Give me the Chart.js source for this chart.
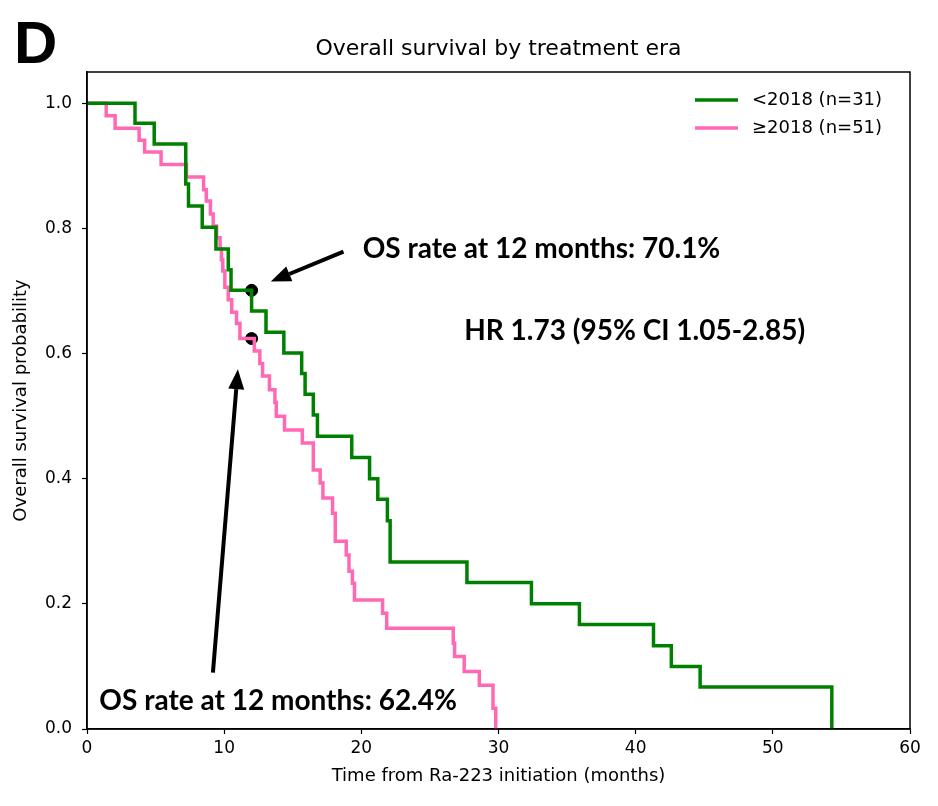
<!DOCTYPE html>
<html>
<head>
<meta charset="utf-8">
<script src="https://cdn.jsdelivr.net/npm/chart.js@4.4.0/dist/chart.umd.min.js"></script>
<style>
  html, body { margin: 0; padding: 0; background: #fff; }
  #wrap { width: 938px; height: 806px; position: relative; }
</style>
</head>
<body>
<div id="wrap"><canvas id="osChart" width="938" height="806"></canvas></div>
<script>
/* =========================
   DATA
========================= */
const seriesLabels = ["<2018 (n=31)", "\u22652018 (n=51)"];
const seriesColors = ["#008000", "#ff69b4"];

// <2018 Kaplan-Meier steps (months, survival)
const earlyTimes = [0, 3.5, 4.9, 7.2, 7.4, 8.4, 9.4, 10.3, 10.5, 12.0, 13.05, 14.35, 15.65, 15.9, 16.5, 16.8,
  19.3, 20.6, 21.2, 21.9, 22.1, 27.7, 32.4, 35.9, 41.3, 42.6, 44.7, 54.3];
const earlySurv = [1.0, 0.968, 0.935, 0.871, 0.836, 0.802, 0.767, 0.734, 0.701, 0.668, 0.634, 0.601, 0.568, 0.535,
  0.502, 0.468, 0.434, 0.400, 0.367, 0.333, 0.267, 0.234, 0.200, 0.167, 0.133, 0.100, 0.067, 0.0];

// >=2018 Kaplan-Meier steps
const lateTimes = [0, 1.4, 2.05, 3.8, 4.2, 5.4, 7.25, 8.5, 8.7, 9.0, 9.2, 9.45, 9.7, 9.8, 9.9, 10.05, 10.3, 10.55,
  10.9, 11.15, 12.2, 12.6, 12.8, 13.3, 13.7, 13.8, 14.4, 15.7, 16.5, 17.0, 17.2, 17.9, 18.1, 18.9, 19.1, 19.35,
  19.5, 21.55, 21.85, 26.7, 26.8, 27.5, 28.6, 29.6, 29.8];
const lateSurv = [1.0, 0.980, 0.960, 0.941, 0.922, 0.902, 0.882, 0.862, 0.844, 0.823, 0.804, 0.785, 0.768, 0.750,
  0.732, 0.706, 0.686, 0.666, 0.648, 0.624, 0.604, 0.584, 0.564, 0.542, 0.522, 0.500, 0.478, 0.457, 0.414, 0.393,
  0.369, 0.345, 0.300, 0.278, 0.252, 0.233, 0.206, 0.185, 0.161, 0.137, 0.116, 0.092, 0.070, 0.033, 0.0];

// 12-month OS markers
const markerTimes = [12, 12];
const markerSurv = [0.701, 0.624];

const xTickValues = [0, 10, 20, 30, 40, 50, 60];
const yTickValues = [0.0, 0.2, 0.4, 0.6, 0.8, 1.0];

// annotations in data units: text, x, y
const noteTexts = ["OS rate at 12 months: 70.1%", "HR 1.73 (95% CI 1.05-2.85)", "OS rate at 12 months: 62.4%"];
const noteX = [20.1, 27.5, 0.9];
const noteY = [0.767, 0.636, 0.044];
// arrows: tail -> tip, data units
const arrowFromX = [18.7, 9.18];
const arrowFromY = [0.763, 0.090];
const arrowToX = [13.4, 11.0];
const arrowToY = [0.715, 0.575];

/* =========================
   PLUGIN: FRAME, LEGEND, NOTES
========================= */
function drawArrow(ctx, x1, y1, x2, y2) {
    const ang = Math.atan2(y2 - y1, x2 - x1);
    const head = 20, half = 8;
    const bx = x2 - head * Math.cos(ang), by = y2 - head * Math.sin(ang);
    ctx.beginPath();
    ctx.moveTo(x1, y1);
    ctx.lineTo(bx, by);
    ctx.lineWidth = 4;
    ctx.strokeStyle = "#000";
    ctx.stroke();
    ctx.beginPath();
    ctx.moveTo(x2, y2);
    ctx.lineTo(bx + half * Math.sin(ang), by - half * Math.cos(ang));
    ctx.lineTo(bx - half * Math.sin(ang), by + half * Math.cos(ang));
    ctx.closePath();
    ctx.fillStyle = "#000";
    ctx.fill();
}

const decorPlugin = {
    id: "decor",
    afterDraw(chart) {
        const { ctx, chartArea: a, scales: { x, y } } = chart;
        ctx.save();

        // axes frame
        ctx.strokeStyle = "#000";
        ctx.lineWidth = 1.5;
        ctx.strokeRect(a.left, a.top, a.right - a.left, a.bottom - a.top);

        // panel letter + title
        ctx.fillStyle = "#000";
        ctx.font = "bold 60px 'Liberation Sans', Arial, sans-serif";
        ctx.textAlign = "left";
        ctx.textBaseline = "alphabetic";
        ctx.fillText("D", 14, 63);

        ctx.font = "22px 'DejaVu Sans', sans-serif";
        ctx.textAlign = "center";
        ctx.fillText("Overall survival by treatment era", (a.left + a.right) / 2, 55);

        // legend
        ctx.font = "18px 'DejaVu Sans', sans-serif";
        ctx.textAlign = "left";
        ctx.textBaseline = "middle";
        seriesLabels.forEach((lab, i) => {
            const ly = a.top + 28 + i * 28;
            ctx.beginPath();
            ctx.moveTo(a.right - 215, ly);
            ctx.lineTo(a.right - 172, ly);
            ctx.strokeStyle = seriesColors[i];
            ctx.lineWidth = 3.5;
            ctx.stroke();
            ctx.fillStyle = "#000";
            ctx.fillText(lab, a.right - 158, ly);
        });

        // notes
        ctx.font = "bold 28px Lato, 'Open Sans', sans-serif";
        ctx.textBaseline = "middle";
        noteTexts.forEach((t, i) => {
            ctx.fillText(t, x.getPixelForValue(noteX[i]), y.getPixelForValue(noteY[i]));
        });

        // arrows
        arrowFromX.forEach((fx, i) => {
            drawArrow(ctx,
                x.getPixelForValue(fx), y.getPixelForValue(arrowFromY[i]),
                x.getPixelForValue(arrowToX[i]), y.getPixelForValue(arrowToY[i]));
        });

        ctx.restore();
    }
};

/* =========================
   CHART
========================= */
function toPoints(xs, ys) {
    return xs.map((v, i) => ({ x: v, y: ys[i] }));
}

const ctx = document.getElementById("osChart").getContext("2d");

new Chart(ctx, {
    type: "line",
    data: {
        datasets: [
            {
                label: seriesLabels[0],
                data: toPoints(earlyTimes, earlySurv),
                borderColor: seriesColors[0],
                borderWidth: 3.5,
                stepped: "before",
                pointRadius: 0,
                fill: false
            },
            {
                label: seriesLabels[1],
                data: toPoints(lateTimes, lateSurv),
                borderColor: seriesColors[1],
                borderWidth: 3.5,
                stepped: "before",
                pointRadius: 0,
                fill: false
            },
            {
                type: "scatter",
                label: "12-month OS",
                data: toPoints(markerTimes, markerSurv),
                backgroundColor: "#000",
                borderColor: "#000",
                pointRadius: 6,
                showLine: false
            }
        ]
    },
    options: {
        responsive: false,
        animation: false,
        layout: { padding: { left: 0, right: 28, top: 72, bottom: 0 } },
        plugins: {
            legend: { display: false },
            title: { display: false },
            tooltip: { enabled: false }
        },
        scales: {
            x: {
                type: "linear",
                min: 0,
                max: 60,
                afterBuildTicks: s => { s.ticks = xTickValues.map(v => ({ value: v })); },
                afterFit: s => { s.height = 77; },
                grid: { drawOnChartArea: false, drawTicks: true, tickLength: 5, tickColor: "#000", tickWidth: 1.2 },
                border: { display: true, color: "#000", width: 1.5 },
                ticks: {
                    color: "#000",
                    padding: 4,
                    font: { family: "'DejaVu Sans', sans-serif", size: 17 },
                    callback: v => String(v)
                },
                title: {
                    display: true,
                    text: "Time from Ra-223 initiation (months)",
                    color: "#000",
                    font: { family: "'DejaVu Sans', sans-serif", size: 18 },
                    padding: { top: 0, bottom: 19 }
                }
            },
            y: {
                type: "linear",
                min: 0,
                max: 1.05,
                afterBuildTicks: s => { s.ticks = yTickValues.map(v => ({ value: v })); },
                afterFit: s => { s.width = 87; },
                grid: { drawOnChartArea: false, drawTicks: true, tickLength: 5, tickColor: "#000", tickWidth: 1.2 },
                border: { display: true, color: "#000", width: 1.5 },
                ticks: {
                    color: "#000",
                    padding: 10,
                    font: { family: "'DejaVu Sans', sans-serif", size: 17 },
                    callback: v => v.toFixed(1)
                },
                title: {
                    display: true,
                    text: "Overall survival probability",
                    color: "#000",
                    font: { family: "'DejaVu Sans', sans-serif", size: 18 },
                    padding: { top: 11, bottom: 0 }
                }
            }
        }
    },
    plugins: [decorPlugin]
});
</script>
</body>
</html>
